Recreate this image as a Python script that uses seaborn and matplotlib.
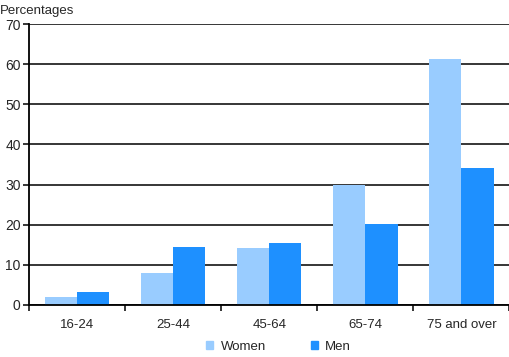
import pandas as pd
import matplotlib
matplotlib.use("Agg")
import matplotlib.pyplot as plt
import seaborn as sns

# data
age_groups = ["16-24", "25-44", "45-64", "65-74", "75 and over"]
women = [2.1, 8.0, 14.2, 29.9, 61.2]
men = [3.2, 14.4, 15.4, 20.3, 34.1]
series = ["Women", "Men"]
colors = ["#99ccff", "#1e90ff"]

df = pd.DataFrame({
    "age": age_groups * 2,
    "sex": ["Women"] * len(women) + ["Men"] * len(men),
    "pct": women + men,
})

sns.set_style("white")
plt.rcParams["font.family"] = ["Liberation Sans", "DejaVu Sans"]

fig = plt.figure(figsize=(5.1, 3.57), dpi=100)
ax = fig.add_axes([29 / 510, 1 - 305 / 357, 1 - 29 / 510 - 0.001, (305 - 24) / 357])

sns.barplot(data=df, x="age", y="pct", hue="sex", hue_order=series,
            palette=colors, width=0.67, gap=0, saturation=1,
            edgecolor="none", linewidth=0, ax=ax, legend=False)

ax.set_ylim(0, 70)
ax.set_xlim(-0.5, 4.5)
ax.set_yticks(range(0, 71, 10))
ax.yaxis.grid(True, color="black", linewidth=1.1)
ax.set_axisbelow(True)

# category ticks sit between groups
ax.set_xticks([i + 0.5 for i in range(-1, 5)], minor=True)
ax.set_xticks(range(5))
ax.set_xticklabels(age_groups)
ax.tick_params(axis="x", which="major", length=0, pad=10, labelsize=9.5)
ax.tick_params(axis="x", which="minor", length=4, width=1.1, color="black", direction="out", bottom=True)
ax.tick_params(axis="y", length=4, width=1.1, color="black", direction="out", left=True, labelsize=10, pad=2)

for s in ["top", "right"]:
    ax.spines[s].set_visible(False)
for s in ["left", "bottom"]:
    ax.spines[s].set_color("black")
    ax.spines[s].set_linewidth(1.3)

ax.set_xlabel("")
ax.set_ylabel("")
fig.text(0.0, 1 - 11 / 357, "Percentages", fontsize=9.5, va="center", ha="left")

handles = [plt.Rectangle((0, 0), 1, 1, color=c) for c in colors]
fig.legend(handles, series, loc="center", bbox_to_anchor=(0.546, 1 - 347 / 357),
           ncol=2, frameon=False, fontsize=9.5, handlelength=0.55, handleheight=0.55,
           handletextpad=0.55, columnspacing=3.4)

fig.savefig("out.png", dpi=100)
